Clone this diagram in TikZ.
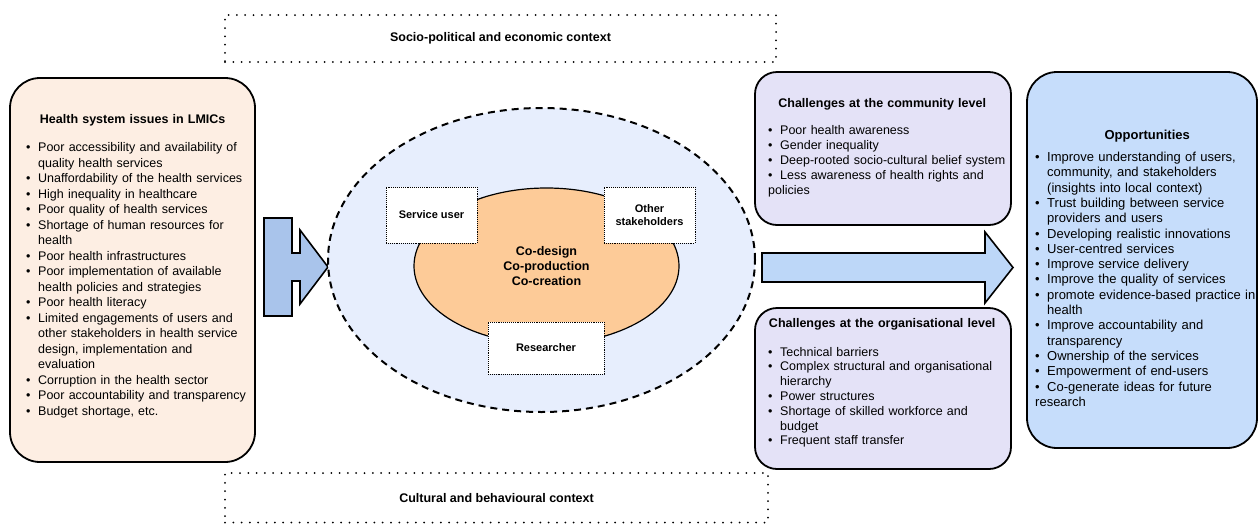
\documentclass[tikz,border=0pt]{standalone}
\usepackage{fontspec}
\setmainfont{Liberation Sans}
\usetikzlibrary{shapes.geometric}

\definecolor{peach}{HTML}{FDEEE3}
\definecolor{lavender}{HTML}{E4E2F7}
\definecolor{oppblue}{HTML}{C6DDFB}
\definecolor{flowblue}{HTML}{BDD7F8}
\definecolor{inblue}{HTML}{A9C4EB}
\definecolor{haze}{HTML}{E7EEFD}
\definecolor{apricot}{HTML}{FDCB98}

% bullet line with hanging indent (\nl breaks inside the item), and a centred bold heading
\newcommand\bitem[1]{\par\hangindent=12pt\hangafter=1\noindent\hbox to 12pt{\textbullet\hfil}#1}
\newcommand\nl{\break}
\newcommand\paneltitle[3][0pt]{{\centering\bfseries\hspace*{#1}#2\par}\vspace{#3}}

\begin{document}
\begin{tikzpicture}[
  x=1pt, y=-1pt,
  panel/.style={draw, line width=1.8pt},
  paneltext/.style={anchor=west, inner sep=0pt, align=left},
  ctxbox/.style={
    draw, line width=2pt, line cap=round, dash pattern=on 0pt off 8.3pt,
    font=\fontsize{12.5}{15}\selectfont\bfseries
  },
  actor/.style={
    draw, densely dotted, line width=0.9pt, fill=white, align=center,
    font=\fontsize{11}{13.5}\selectfont\bfseries
  },
  blockarrow/.style={draw, line width=1.6pt, line join=miter}
]
\useasboundingbox (0,0) rectangle (1259,523);

% context frames
\node[ctxbox, minimum width=551pt, minimum height=47pt] (polctx) at (500.5,38.5) {Socio-political and economic context};
\node[ctxbox, minimum width=543pt, minimum height=49.5pt] (culctx) at (496.5,497.75) {Cultural and behavioural context};

% left panel
\node[panel, fill=peach, rounded corners=30pt, minimum width=245pt, minimum height=384pt] (issues) at (132.5,270) {};
\node[paneltext, text width=222pt, font=\fontsize{12.5}{15.5}\selectfont] (issuesText) at (26,266.3) {%
  \paneltitle[-9pt]{Health system issues in LMICs}{12.5pt}
  \bitem{Poor accessibility and availability of\nl quality health services}
  \bitem{Unaffordability of the health services}
  \bitem{High inequality in healthcare}
  \bitem{Poor quality of health services}
  \bitem{Shortage of human resources for\nl health}
  \bitem{Poor health infrastructures}
  \bitem{Poor implementation of available\nl health policies and strategies}
  \bitem{Poor health literacy}
  \bitem{Limited engagements of users and\nl other stakeholders in health service\nl design, implementation and\nl evaluation}
  \bitem{Corruption in the health sector}
  \bitem{Poor accountability and transparency}
  \bitem{Budget shortage, etc.}};

% arrow into the co-design space
\draw[blockarrow, fill=inblue, shift={(264,267)}]
  (0,-49) -- (28,-49) -- (28,-14) -- (36,-14) -- (36,-37) -- (64,0)
  -- (36,37) -- (36,14) -- (28,14) -- (28,49) -- (0,49) -- cycle;

% co-design space
\node[draw, ellipse, fill=haze, line width=2pt, dash pattern=on 7pt off 5pt,
  minimum width=427pt, minimum height=304pt] (space) at (541.5,260) {};
\node[draw, ellipse, fill=apricot, line width=1.2pt, align=center,
  minimum width=265pt, minimum height=156pt,
  font=\fontsize{12.5}{14.8}\selectfont\bfseries] (codesign) at (546.5,266)
  {Co-design\\Co-production\\Co-creation};
\node[actor, minimum width=91pt, minimum height=56pt] (user) at (431.5,215) {Service user};
\node[actor, minimum width=91pt, minimum height=56pt] (others) at (649.5,215) {Other\\stakeholders};
\node[actor, minimum width=116pt, minimum height=52pt] (researcher) at (546,348) {Researcher};

% challenges
\node[panel, fill=lavender, rounded corners=22pt, minimum width=256pt, minimum height=153pt] (community) at (883,148.5) {};
\node[paneltext, text width=242pt, font=\fontsize{12.5}{15}\selectfont] (communityText) at (768,147.7) {%
  \paneltitle[-14pt]{Challenges at the community level}{12pt}
  \bitem{Poor health awareness}
  \bitem{Gender inequality}
  \bitem{Deep-rooted socio-cultural belief system}
  \bitem{Less awareness of health rights and\nl policies}};

\node[panel, fill=lavender, rounded corners=22pt, minimum width=256pt, minimum height=161pt] (orglevel) at (883,388.5) {};
\node[paneltext, text width=242pt, font=\fontsize{12.5}{14.8}\selectfont] (orglevelText) at (768,382.8) {%
  \paneltitle[-14pt]{Challenges at the organisational level}{14.2pt}
  \bitem{Technical barriers}
  \bitem{Complex structural and organisational\nl hierarchy}
  \bitem{Power structures}
  \bitem{Shortage of skilled workforce and\nl budget}
  \bitem{Frequent staff transfer}};

% arrow towards the opportunities
\draw[blockarrow, fill=flowblue, shift={(762,267.5)}]
  (0,-14.5) -- (223,-14.5) -- (223,-35.5) -- (251,0) -- (223,35.5)
  -- (223,14.5) -- (0,14.5) -- cycle;

% opportunities
\node[panel, fill=oppblue, rounded corners=30pt, minimum width=230pt, minimum height=376pt] (opps) at (1142,260) {};
\node[paneltext, text width=224pt, font=\fontsize{13}{15.3}\selectfont] (oppsText) at (1035,268.3) {%
  \paneltitle{Opportunities}{6.7pt}
  \bitem{Improve understanding of users,\nl community, and stakeholders\nl (insights into local context)}
  \bitem{Trust building between service\nl providers and users}
  \bitem{Developing realistic innovations}
  \bitem{User-centred services}
  \bitem{Improve service delivery}
  \bitem{Improve the quality of services}
  \bitem{promote evidence-based practice in\nl health}
  \bitem{Improve accountability and\nl transparency}
  \bitem{Ownership of the services}
  \bitem{Empowerment of end-users}
  \bitem{Co-generate ideas for future\nl research}};
\end{tikzpicture}
\end{document}
